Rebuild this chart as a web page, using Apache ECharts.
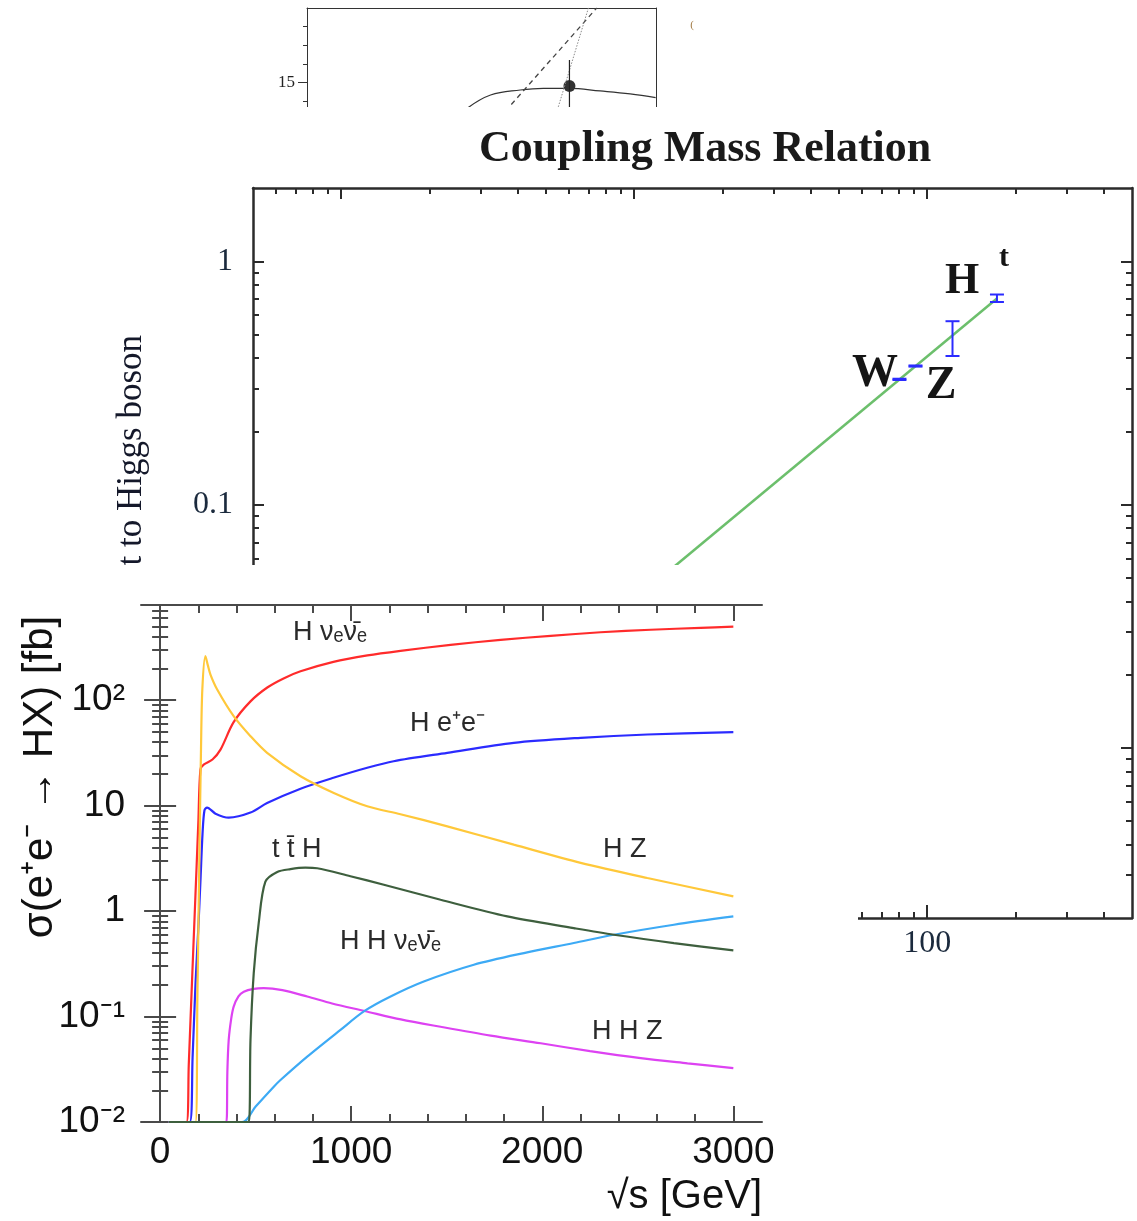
<!DOCTYPE html>
<html>
<head>
<meta charset="utf-8">
<title>Coupling Mass Relation / Higgs production</title>
<script src="https://cdn.jsdelivr.net/npm/echarts@6.0.0/dist/echarts.min.js"></script>
<style>
  html, body { margin: 0; padding: 0; background: #fff; }
  #page { position: relative; width: 1137px; height: 1221px; overflow: hidden; background: #fff; }
  #mid { position: absolute; left: 0; top: 0; width: 1137px; height: 1221px; }
  #topClip { position: absolute; left: 0; top: 0; width: 1137px; height: 107px; overflow: hidden; }
  #top { width: 1137px; height: 260px; }
  #bottom { position: absolute; left: 0; top: 565px; width: 858px; height: 656px; background: #fff; }
</style>
</head>
<body>
<div id="page">
  <div id="mid"></div>
  <div id="topClip"><div id="top"></div></div>
  <div id="bottom"></div>
</div>
<script>
// ---------- top fragment (cut by the page edge) ----------
const topCurveX = [45.9, 52.6, 61.1, 67.7, 75.1, 84.0, 92.6, 99.9];
const topCurveY = [13.61, 14.32, 14.59, 14.68, 14.68, 14.54, 14.38, 14.18];
const topDashX = [50, 83];
const topDashY = [12.0, 19.0];
const topDotX = [70, 80.7];
const topDotY = [12.45, 19.04];
const topPointX = [75.2];
const topPointY = [14.81];
const topErrY = [13.0, 16.2];
const topTickMajor = [15];
const topTickMinor = [11, 12, 13, 14, 16, 17, 18];

// ---------- coupling vs mass ----------
const lineMass = [0.5, 173];
const lineCoupling = [0.00203, 0.703];
const particleName = ['W', 'Z', 'H', 't'];
const particleMass = [80.4, 91.2, 122, 173];
const particleLow = [0.325, 0.369, 0.408, 0.68];
const particleHigh = [0.329, 0.373, 0.567, 0.73];
const massTickMajor = [1, 10, 100];
const massTickMinor = [0.6, 0.7, 0.8, 0.9, 2, 3, 4, 5, 6, 7, 8, 9, 20, 30, 40, 50, 60, 70, 80, 90, 200, 300, 400];
const couplingTickMajor = [0.01, 0.1, 1];
const couplingTickMinor = [0.003, 0.004, 0.005, 0.006, 0.007, 0.008, 0.009,
  0.02, 0.03, 0.04, 0.05, 0.06, 0.07, 0.08, 0.09,
  0.2, 0.3, 0.4, 0.5, 0.6, 0.7, 0.8, 0.9];

// ---------- sigma(e+e- -> HX) ----------
const hnnX = [45, 138, 150, 168, 180, 190, 200, 211, 228, 274, 316, 384, 473, 561, 646, 735, 907, 1085, 1258, 1520, 1782, 2044, 2305, 2567, 2829, 3000];
const hnnY = [0.01, 0.01, 0.035, 0.24, 0.84, 2.4, 6.9, 22, 24.5, 27.4, 34, 61.6, 97.5, 132, 161, 188, 231, 266, 294, 335, 374, 408, 441, 466, 486, 499];
const heeX = [45, 155, 170, 185, 200, 212, 222, 232, 246, 290, 359, 473, 560, 735, 907, 1084, 1222, 1503, 1851, 2201, 2550, 3000];
const heeY = [0.01, 0.01, 0.041, 0.2, 0.69, 2.1, 5.4, 9.0, 9.6, 8.4, 7.7, 8.6, 10.6, 14.5, 18.4, 22.9, 26.4, 31.7, 39.4, 44, 47.3, 49.8];
const hzX = [45, 185, 195, 206, 214, 221, 237, 250, 263, 298, 385, 473, 560, 735, 909, 1084, 1258, 1503, 1851, 2201, 2550, 3000];
const hzY = [0.01, 0.01, 0.144, 3.8, 34, 127, 262, 214, 176, 127, 70.6, 45.6, 31.7, 19, 13.2, 9.87, 8.3, 6.37, 4.27, 2.87, 2.06, 1.38];
const tthX = [45, 464, 473, 490, 516, 551, 613, 682, 760, 822, 996, 1171, 1468, 1817, 2165, 2375, 2689, 3000];
const tthY = [0.01, 0.01, 0.06, 0.258, 0.77, 1.9, 2.35, 2.5, 2.58, 2.55, 2.14, 1.78, 1.28, 0.89, 0.69, 0.597, 0.498, 0.424];
const hhzX = [45, 347, 352, 359, 372, 385, 410, 438, 490, 542, 640, 770, 900, 1070, 1260, 1468, 1730, 1992, 2250, 2515, 2760, 3000];
const hhzY = [0.01, 0.01, 0.03, 0.06, 0.095, 0.124, 0.155, 0.172, 0.183, 0.186, 0.178, 0.155, 0.133, 0.113, 0.094, 0.080, 0.066, 0.0558, 0.047, 0.0403, 0.036, 0.0324];
const hhnnX = [45, 429, 500, 595, 630, 770, 944, 1070, 1206, 1380, 1642, 1904, 2165, 2375, 2689, 3000];
const hhnnY = [0.01, 0.01, 0.014, 0.0216, 0.025, 0.0417, 0.0748, 0.113, 0.155, 0.215, 0.310, 0.400, 0.498, 0.597, 0.743, 0.89];
const sqrtsTickMajor = [0, 1000, 2000, 3000];
const sqrtsTickMinor = [200, 400, 600, 800, 1200, 1400, 1600, 1800, 2200, 2400, 2600, 2800];
const sigmaTickMajor = [0.01, 0.1, 1, 10, 100];
const sigmaTickText = ['10⁻²', '10⁻¹', '1', '10', '10²'];
const sigmaTickMinor = [0.02, 0.03, 0.04, 0.05, 0.06, 0.07, 0.08, 0.09,
  0.2, 0.3, 0.4, 0.5, 0.6, 0.7, 0.8, 0.9,
  2, 3, 4, 5, 6, 7, 8, 9,
  20, 30, 40, 50, 60, 70, 80, 90,
  200, 300, 400, 500, 600, 700];

const serif = 'Liberation Serif';
const sans = 'Liberation Sans';
const pairs = (xs, ys) => xs.map((x, i) => [x, ys[i]]);

// one axis = one set of ticks (major or minor), optional frame line and labels
function axis(base, position, tickValues, len, inside, line, label) {
  return Object.assign({}, base, {
    position: position,
    axisLine: line ? { show: true, lineStyle: line } : { show: false },
    axisTick: {
      show: true, inside: inside, length: len, customValues: tickValues,
      lineStyle: { color: line ? line.color : base._tickColor, width: base._tickWidth }
    },
    axisLabel: label || { show: false },
    splitLine: { show: false }
  });
}

// ================= top fragment =================
const topChart = echarts.init(document.getElementById('top'));
const topY = { type: 'value', min: 10, max: 19, _tickColor: '#333', _tickWidth: 1 };
const topLine = { color: '#333', width: 1 };
topChart.setOption({
  animation: false,
  grid: { left: 307, top: 8, width: 349, height: 167.4, outerBoundsMode: 'none' },
  xAxis: [
    { type: 'value', min: 0, max: 100, position: 'top', axisLine: { show: true, lineStyle: topLine },
      axisTick: { show: false }, axisLabel: { show: false }, splitLine: { show: false } }
  ],
  yAxis: [
    axis(topY, 'left', topTickMajor, 9, false, topLine,
      { show: true, customValues: topTickMajor, margin: 12, fontFamily: serif, fontSize: 17, color: '#222' }),
    axis(topY, 'left', topTickMinor, 4, false, null, null),
    { type: 'value', min: 10, max: 19, position: 'right', axisLine: { show: true, lineStyle: topLine },
      axisTick: { show: false }, axisLabel: { show: false }, splitLine: { show: false } }
  ],
  graphic: [
    { type: 'text', x: 692, y: 25, style: { text: '(', fontSize: 11, fontFamily: serif, fill: '#a07840', align: 'center', verticalAlign: 'middle' } }
  ],
  series: [
    { type: 'line', data: pairs(topCurveX, topCurveY), smooth: 0.4, symbol: 'none', lineStyle: { color: '#333', width: 1.2 } },
    { type: 'line', data: pairs(topDashX, topDashY), symbol: 'none', lineStyle: { color: '#444', width: 1.3, type: [5, 4] } },
    { type: 'line', data: pairs(topDotX, topDotY), symbol: 'none', lineStyle: { color: '#8a8a8a', width: 1, type: [1.5, 1.5] } },
    { type: 'line', data: [[topPointX[0], topErrY[0]], [topPointX[0], topErrY[1]]], symbol: 'none', lineStyle: { color: '#222', width: 1.2 } },
    { type: 'scatter', data: pairs(topPointX, topPointY), symbolSize: 12, itemStyle: { color: '#000' } }
  ]
});

// ================= coupling mass relation =================
const midChart = echarts.init(document.getElementById('mid'));
const midFrame = { color: '#2b2b2b', width: 2.5 };
const midX = { type: 'log', logBase: 10, min: 0.5, max: 500, _tickColor: '#2b2b2b', _tickWidth: 2 };
const midY = { type: 'log', logBase: 10, min: 0.002, max: 2, _tickColor: '#2b2b2b', _tickWidth: 2 };
const midLabel = { fontFamily: serif, fontSize: 32, color: '#1b2a3d' };

function renderErrorBar(params, api) {
  const x = api.value(0);
  const lo = api.coord([x, api.value(1)]);
  const hi = api.coord([x, api.value(2)]);
  const half = 7;
  const style = { stroke: '#2b2bff', lineWidth: 2 };
  return {
    type: 'group',
    children: [
      { type: 'line', shape: { x1: lo[0], y1: lo[1], x2: hi[0], y2: hi[1] }, style: style },
      { type: 'line', shape: { x1: lo[0] - half, y1: lo[1], x2: lo[0] + half, y2: lo[1] }, style: style },
      { type: 'line', shape: { x1: hi[0] - half, y1: hi[1], x2: hi[0] + half, y2: hi[1] }, style: style }
    ]
  };
}

const bold = (text, x, y, size) => ({
  type: 'text', x: x, y: y,
  style: { text: text, fontFamily: serif, fontWeight: 'bold', fontSize: size, fill: '#151515', align: 'center', verticalAlign: 'middle' }
});

midChart.setOption({
  animation: false,
  grid: { left: 253, top: 188, width: 879, height: 730, outerBoundsMode: 'none' },
  xAxis: [
    axis(midX, 'bottom', massTickMajor, 13, true, midFrame,
      Object.assign({ show: true, customValues: massTickMajor, margin: 10, formatter: v => String(v) }, midLabel)),
    axis(midX, 'bottom', massTickMinor, 6, true, null, null),
    axis(midX, 'top', massTickMajor, 11, true, midFrame, null),
    axis(midX, 'top', massTickMinor, 6, true, null, null)
  ],
  yAxis: [
    axis(midY, 'left', couplingTickMajor, 11, true, midFrame,
      Object.assign({ show: true, customValues: couplingTickMajor, margin: 20, formatter: v => String(v) }, midLabel)),
    axis(midY, 'left', couplingTickMinor, 6, true, null, null),
    axis(midY, 'right', couplingTickMajor, 11, true, midFrame, null),
    axis(midY, 'right', couplingTickMinor, 6, true, null, null)
  ],
  title: {
    text: 'Coupling Mass Relation', left: 474, top: 123,
    textStyle: { fontFamily: serif, fontWeight: 'bold', fontSize: 44, color: '#1a1a1a' }
  },
  graphic: [
    { type: 'text', x: 132, y: 335, rotation: Math.PI / 2,
      style: { text: 'Coupling constant to Higgs boson', fontFamily: serif, fontSize: 35, fill: '#14182a', align: 'right', verticalAlign: 'middle' } },
    bold(particleName[0], 875, 374, 46),
    bold(particleName[1], 941, 386, 46),
    bold(particleName[2], 962, 282, 44),
    bold(particleName[3], 1004, 258, 30)
  ],
  series: [
    { type: 'line', data: pairs(lineMass, lineCoupling), symbol: 'none', z: 1,
      lineStyle: { color: '#6cbf6c', width: 2.5 } },
    { type: 'custom', renderItem: renderErrorBar, z: 3,
      data: particleMass.map((m, i) => [m, particleLow[i], particleHigh[i]]),
      encode: { x: 0, y: [1, 2] } }
  ]
});

// ================= sigma(e+e- -> HX) =================
const botChart = echarts.init(document.getElementById('bottom'));
const botFrame = { color: '#4a4a4a', width: 2 };
const botX = { type: 'value', min: -100, max: 3150, _tickColor: '#4a4a4a', _tickWidth: 2 };
const botY = { type: 'log', logBase: 10, min: 0.01, max: 800, _tickColor: '#4a4a4a', _tickWidth: 2 };
const botLabel = { fontFamily: sans, fontSize: 37, color: '#111' };

const proc = (text, x, y) => ({
  type: 'text', x: x, y: y,
  style: { text: text, fontFamily: sans, fontSize: 27, fill: '#2a2a2a', align: 'left', verticalAlign: 'middle' }
});
const curve = (xs, ys, color) => ({
  type: 'line', data: pairs(xs, ys), smooth: 0.3, symbol: 'none',
  lineStyle: { color: color, width: 2.2 }
});

botChart.setOption({
  animation: false,
  grid: { left: 141, top: 40, width: 621, height: 517, outerBoundsMode: 'none' },
  xAxis: [
    axis(botX, 'bottom', sqrtsTickMajor, 16, true, botFrame,
      Object.assign({ show: true, customValues: sqrtsTickMajor, margin: 12, formatter: v => String(v) }, botLabel)),
    axis(botX, 'bottom', sqrtsTickMinor, 8, true, null, null),
    axis(botX, 'top', sqrtsTickMajor, 16, true, botFrame, null),
    axis(botX, 'top', sqrtsTickMinor, 8, true, null, null)
  ],
  yAxis: [
    axis(botY, 'left', sigmaTickMajor, 16, true, botFrame,
      Object.assign({ show: true, customValues: sigmaTickMajor, margin: 16,
        formatter: v => sigmaTickText[sigmaTickMajor.findIndex(t => Math.abs(Math.log10(t) - Math.log10(v)) < 1e-6)] }, botLabel)),
    axis(botY, 'left', sigmaTickMinor, 8, true, null, null),
    axis(botY, 'right', sigmaTickMajor, 16, true, botFrame, null),
    axis(botY, 'right', sigmaTickMinor, 8, true, null, null)
  ],
  graphic: [
    { type: 'text', x: 40, y: 212, rotation: Math.PI / 2,
      style: { text: 'σ(e⁺e⁻ → HX) [fb]', fontFamily: sans, fontSize: 42, fill: '#111', align: 'center', verticalAlign: 'middle' } },
    { type: 'text', x: 762, y: 632,
      style: { text: '√s [GeV]', fontFamily: sans, fontSize: 40, fill: '#111', align: 'right', verticalAlign: 'middle' } },
    proc('H νₑν̄ₑ', 293, 68),
    proc('H e⁺e⁻', 410, 159),
    proc('H Z', 603, 285),
    proc('t t̄ H', 272, 285),
    proc('H H νₑν̄ₑ', 340, 377),
    proc('H H Z', 592, 467)
  ],
  series: [
    curve(hnnX, hnnY, '#ff2b2b'),
    curve(heeX, heeY, '#2b2bff'),
    curve(hzX, hzY, '#ffc83a'),
    curve(hhzX, hhzY, '#dd42f2'),
    curve(hhnnX, hhnnY, '#3daaf5'),
    curve(tthX, tthY, '#3e5f3e')
  ]
});
</script>
</body>
</html>
